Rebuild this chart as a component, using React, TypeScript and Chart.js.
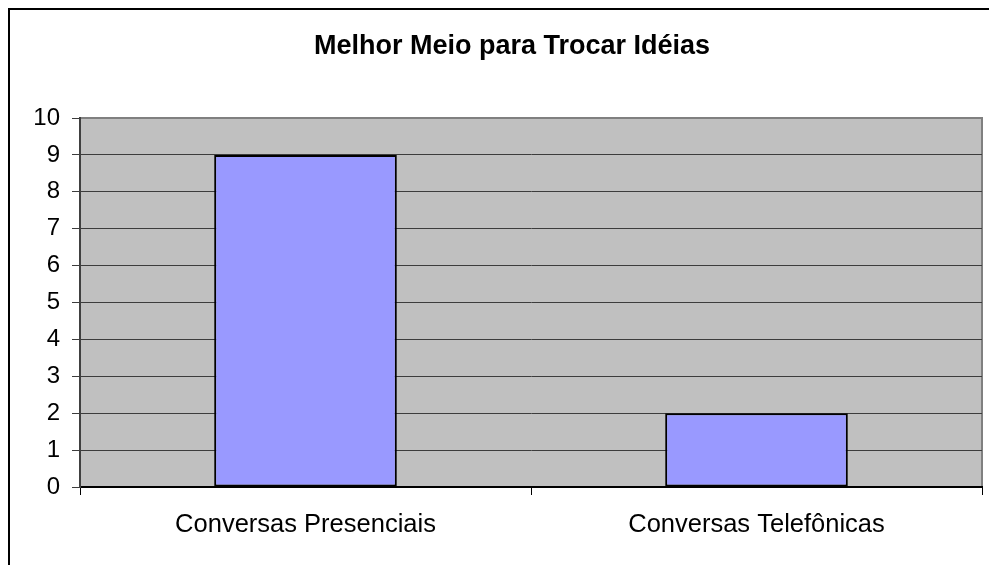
import React, { useEffect, useRef } from "react";
import { Chart, registerables } from "chart.js";

Chart.register(...registerables);

const TITLE = "Melhor Meio para Trocar Idéias";
const CATEGORIES = ["Conversas Presenciais", "Conversas Telefônicas"];
const VALUES = [9, 2];
const Y_MIN = 0;
const Y_MAX = 10;
const Y_STEP = 1;

const CANVAS_W = 1008;
const CANVAS_H = 557;
const FONT = "'Liberation Sans', Arial, sans-serif";

const framePlugin = {
  id: "framePlugin",
  beforeDraw(chart: any) {
    const { ctx, chartArea } = chart;
    const { left, top, right, bottom } = chartArea;
    ctx.save();
    // outer chart border (left & top visible)
    ctx.fillStyle = "#000000";
    ctx.fillRect(0, 0, 2, chart.height);
    ctx.fillRect(0, 0, chart.width, 2);
    // plot area background
    ctx.fillStyle = "#C0C0C0";
    ctx.fillRect(left, top, right - left, bottom - top);
    // plot area border (grey)
    ctx.strokeStyle = "#808080";
    ctx.lineWidth = 2;
    ctx.beginPath();
    ctx.moveTo(left, top);
    ctx.lineTo(right, top);
    ctx.lineTo(right, bottom);
    ctx.stroke();
    // title centred on the whole chart object
    ctx.fillStyle = "#000000";
    ctx.font = `bold 27px ${FONT}`;
    ctx.textAlign = "center";
    ctx.textBaseline = "middle";
    ctx.fillText(TITLE, chart.width / 2, 39);
    ctx.restore();
  },
};

export default function App() {
  const canvasRef = useRef<HTMLCanvasElement | null>(null);

  useEffect(() => {
    if (!canvasRef.current) return;
    const chart = new Chart(canvasRef.current, {
      type: "bar",
      data: {
        labels: CATEGORIES,
        datasets: [
          {
            data: VALUES,
            backgroundColor: "#9999FF",
            borderColor: "#000000",
            borderWidth: 2,
            borderSkipped: false,
            categoryPercentage: 1,
            barPercentage: 0.405,
          },
        ],
      },
      options: {
        responsive: false,
        animation: false,
        devicePixelRatio: 1,
        layout: { padding: { left: 0, right: CANVAS_W - 974, top: 110, bottom: 0 } },
        plugins: {
          legend: { display: false },
          tooltip: { enabled: false },
          title: { display: false },
        },
        scales: {
          x: {
            offset: true,
            afterFit: (scale: any) => {
              scale.height = 78;
            },
            grid: {
              display: true,
              offset: true,
              drawOnChartArea: false,
              drawTicks: true,
              tickLength: 8,
              tickColor: "#000000",
              tickWidth: 1,
            },
            border: { display: true, color: "#000000", width: 2 },
            ticks: {
              color: "#000000",
              padding: 15,
              maxRotation: 0,
              autoSkip: false,
              font: { family: FONT, size: 25.5 },
            },
          },
          y: {
            min: Y_MIN,
            max: Y_MAX,
            afterFit: (scale: any) => {
              scale.width = 72;
            },
            grid: {
              display: true,
              drawOnChartArea: true,
              drawTicks: true,
              tickLength: 8,
              color: (ctx: any) =>
                ctx.tick && ctx.tick.value === Y_MAX ? "#808080" : "#3c3c3c",
              lineWidth: 1,
              tickColor: "#3c3c3c",
              tickWidth: 1,
            },
            border: { display: true, color: "#404040", width: 2 },
            ticks: {
              stepSize: Y_STEP,
              color: "#000000",
              padding: 12,
              font: { family: FONT, size: 24 },
            },
          },
        },
      },
      plugins: [framePlugin],
    } as any);
    return () => chart.destroy();
  }, []);

  return (
    <div
      style={{
        position: "fixed",
        left: 8,
        top: 8,
        width: 981,
        height: 557,
        overflow: "hidden",
        background: "#ffffff",
      }}
    >
      <canvas
        ref={canvasRef}
        width={CANVAS_W}
        height={CANVAS_H}
        style={{ display: "block", width: CANVAS_W, height: CANVAS_H }}
      />
    </div>
  );
}
